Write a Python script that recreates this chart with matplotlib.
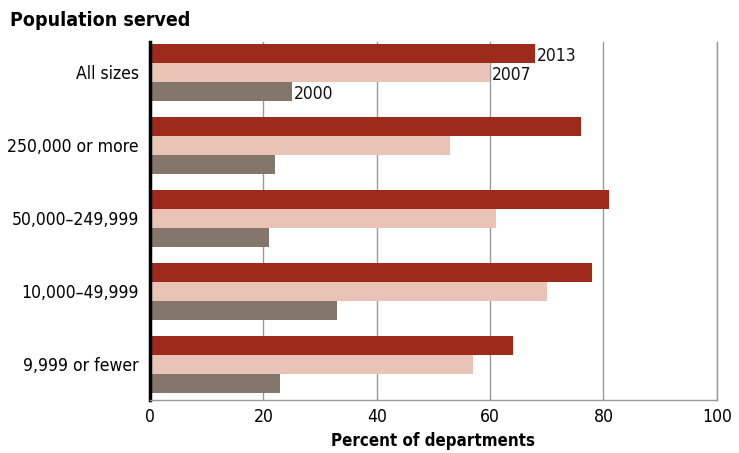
import matplotlib
matplotlib.use("Agg")
import matplotlib.pyplot as plt
import numpy as np

categories = ["All sizes", "250,000 or more", "50,000\u2013249,999", "10,000\u201349,999", "9,999 or fewer"]
years = ["2013", "2007", "2000"]
v2013 = [68, 76, 81, 78, 64]
v2007 = [60, 53, 61, 70, 57]
v2000 = [25, 22, 21, 33, 23]
colors = ["#9e2a1b", "#e9c4b6", "#85766b"]

plt.rcParams['font.family'] = ['DejaVu Sans']
plt.rcParams['font.stretch'] = 'condensed'

fig = plt.figure(figsize=(7.39, 4.53), dpi=100)
ax = fig.add_axes([0.203, 0.117, 0.767, 0.79])

h = 0.26
y = np.arange(len(categories))
series = [v2013, v2007, v2000]
for i, (vals, c) in enumerate(zip(series, colors)):
    ax.barh(y + (i - 1) * h, vals, height=h, color=c, zorder=2)
    ax.text(vals[0] + 0.3, y[0] + (i - 1) * h + 0.04, years[i], va='center', ha='left',
            fontsize=12.5, color='#111111', zorder=3)

ax.set_ylim(4.49, -0.41)
ax.set_xlim(0, 100)
ax.set_xticks([0, 20, 40, 60, 80, 100])
ax.set_yticks(y)
ax.set_yticklabels(categories, fontsize=12.6)
ax.tick_params(axis='x', labelsize=12.6, length=0, pad=6)
ax.tick_params(axis='y', length=0, pad=8)
ax.xaxis.grid(True, color='#999999', linewidth=1, zorder=0)
ax.set_axisbelow(True)
ax.spines['top'].set_visible(False)
ax.spines['right'].set_color('#999999')
ax.spines['right'].set_linewidth(1)
ax.spines['bottom'].set_color('#999999')
ax.spines['bottom'].set_linewidth(1)
ax.spines['left'].set_color('black')
ax.spines['left'].set_linewidth(2.5)
ax.set_xlabel("Percent of departments", fontsize=12.2, fontweight='bold', labelpad=4)
fig.text(10 / 739, 1 - 20 / 453, "Population served", fontsize=14, fontweight='bold',
         ha='left', va='center')

fig.savefig("out.png", dpi=100)
